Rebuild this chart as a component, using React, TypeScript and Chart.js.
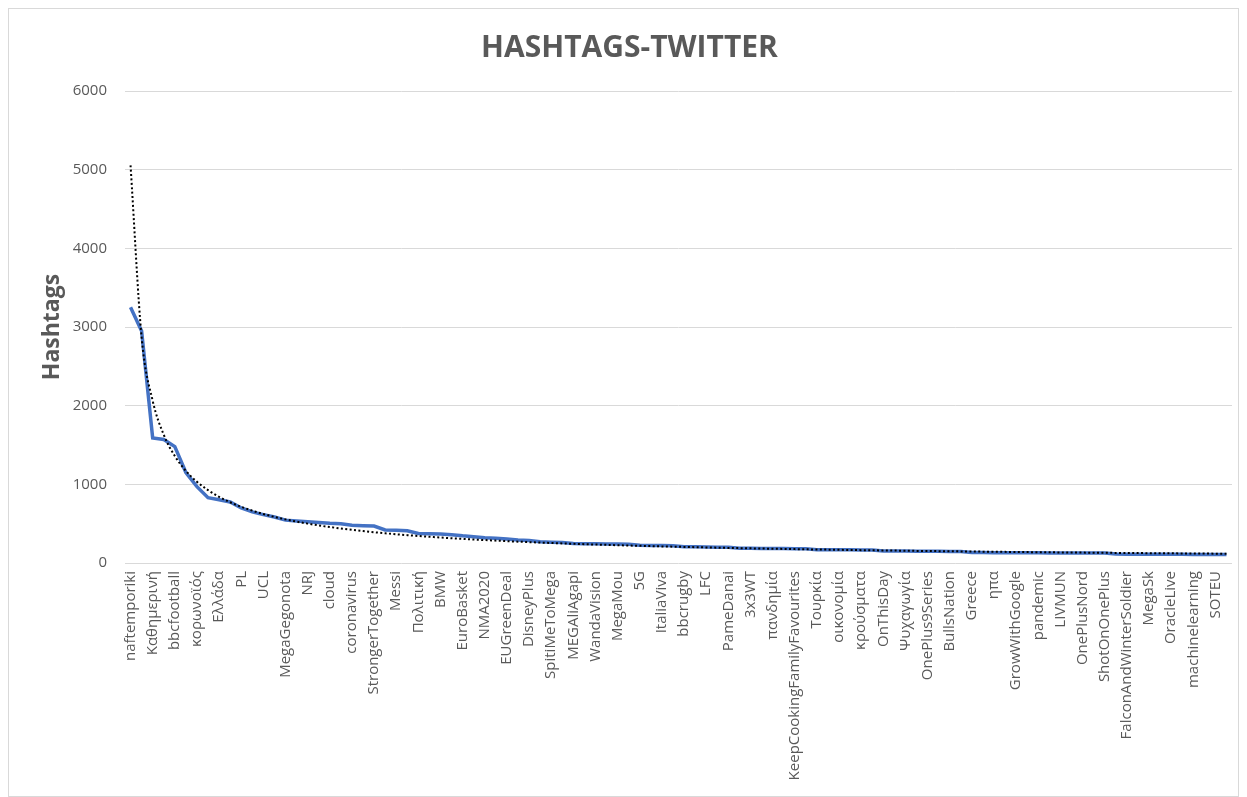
import { useEffect, useRef } from "react";
import { Chart, registerables } from "chart.js";

Chart.register(...registerables);

// Labels that are visible on the axis (every second category is shown)
const shownLabels: string[] = [
  "naftemporiki", "Καθημερινή", "bbcfootball", "κορωνοϊός", "Ελλάδα",
  "PL", "UCL", "MegaGegonota", "NRJ", "cloud",
  "coronavirus", "StrongerTogether", "Messi", "Πολιτική", "BMW",
  "EuroBasket", "NMA2020", "EUGreenDeal", "DisneyPlus", "SpitiMeToMega",
  "MEGAliAgapi", "WandaVision", "MegaMou", "5G", "ItaliaViva",
  "bbcrugby", "LFC", "PameDanai", "3x3WT", "πανδημία",
  "KeepCookingFamilyFavourites", "Τουρκία", "οικονομία", "κρούσματα", "OnThisDay",
  "Ψυχαγωγία", "OnePlus9Series", "BullsNation", "Greece", "ηπα",
  "GrowWithGoogle", "pandemic", "LIVMUN", "OnePlusNord", "ShotOnOnePlus",
  "FalconAndWinterSoldier", "MegaSk", "OracleLive", "machinelearning", "SOTEU",
];

// Hashtag counts, one per category (100 categories)
const hashtagCounts: number[] = [
  3250, 2950, 1590, 1570, 1480, 1150, 970, 830, 805, 775,
  700, 650, 615, 585, 545, 535, 525, 515, 505, 500,
  480, 475, 470, 420, 415, 410, 375, 372, 368, 360,
  345, 335, 320, 315, 305, 292, 287, 270, 265, 260,
  248, 246, 244, 242, 240, 238, 225, 223, 222, 220,
  207, 205, 203, 201, 199, 187, 186, 185, 184, 183,
  182, 180, 170, 169, 168, 167, 166, 165, 153, 152,
  151, 150, 149, 148, 147, 146, 133, 132, 131, 130,
  130, 129, 129, 128, 128, 127, 127, 126, 126, 113,
  112, 112, 111, 111, 110, 110, 109, 109, 108, 108,
];

const yTickValues: number[] = [0, 1000, 2000, 3000, 4000, 5000, 6000];

const chartTitle = "HASHTAGS-TWITTER";
const yAxisTitle = "Hashtags";

// category list: shown label on even positions, hidden label on odd positions
const categories: string[] = hashtagCounts.map((_, i) =>
  i % 2 === 0 ? shownLabels[i / 2] ?? "" : ""
);

// Power trendline (least squares on log-log, like a spreadsheet power trendline)
function powerTrend(values: number[]): number[] {
  const n = values.length;
  let sx = 0, sy = 0, sxx = 0, sxy = 0;
  values.forEach((v, i) => {
    const lx = Math.log(i + 1);
    const ly = Math.log(v);
    sx += lx; sy += ly; sxx += lx * lx; sxy += lx * ly;
  });
  const b = (n * sxy - sx * sy) / (n * sxx - sx * sx);
  const a = Math.exp((sy - b * sx) / n);
  return values.map((_, i) => a * Math.pow(i + 1, b));
}

const GREY = "#595959";
const FONT = "'Open Sans', 'DejaVu Sans', sans-serif";

export default function App() {
  const ref = useRef<HTMLCanvasElement | null>(null);

  useEffect(() => {
    document.documentElement.style.overflow = "hidden";
    const canvas = ref.current;
    if (!canvas) return;
    const chart = new Chart(canvas, {
      type: "line",
      data: {
        labels: categories,
        datasets: [
          {
            label: "Trend",
            data: powerTrend(hashtagCounts),
            borderColor: "#000000",
            borderWidth: 2,
            borderDash: [2, 2.4],
            pointRadius: 0,
            cubicInterpolationMode: "monotone",
            fill: false,
            order: 0,
          },
          {
            label: "Hashtags",
            data: hashtagCounts,
            borderColor: "#4472C4",
            borderWidth: 3.5,
            pointRadius: 0,
            tension: 0,
            fill: false,
            order: 1,
          },
        ],
      },
      options: {
        responsive: false,
        animation: false,
        layout: { padding: { left: 12, right: 0, top: 0, bottom: 0 } },
        plugins: {
          legend: { display: false },
          tooltip: { enabled: false },
          title: {
            display: true,
            text: chartTitle,
            color: GREY,
            font: { family: FONT, size: 30, weight: "bold", lineHeight: 1.2 },
            padding: { top: 21, bottom: 25 },
          },
        },
        scales: {
          x: {
            type: "category",
            offset: true,
            grid: { display: false, drawTicks: false },
            border: { display: false },
            ticks: {
              autoSkip: false,
              maxRotation: 90,
              minRotation: 90,
              padding: 8,
              color: GREY,
              font: { family: FONT, size: 15 },
            },
            afterFit: (scale: any) => {
              scale.height = 233;
              scale.paddingLeft = 0;
              scale.paddingRight = 6;
            },
          },
          y: {
            min: 0,
            max: 6000,
            afterBuildTicks: (scale: any) => {
              scale.ticks = yTickValues.map((v) => ({ value: v }));
            },
            grid: { color: "#d9d9d9", lineWidth: 1, drawTicks: false },
            border: { display: false },
            ticks: {
              padding: 18,
              color: GREY,
              font: { family: FONT, size: 15 },
              callback: (v: any) => String(v),
            },
            title: {
              display: true,
              text: yAxisTitle,
              color: GREY,
              font: { family: FONT, size: 23, weight: "bold", lineHeight: 1.2 },
              padding: { top: 18, bottom: 0 },
            },
            afterFit: (scale: any) => {
              scale.width = 104;
            },
          },
        },
      },
    });
    return () => chart.destroy();
  }, []);

  return (
    <div
      style={{
        width: 1231,
        height: 789,
        boxSizing: "border-box",
        border: "1px solid #d9d9d9",
        background: "#ffffff",
        overflow: "hidden",
      }}
    >
      <canvas ref={ref} width={1229} height={787} style={{ display: "block" }} />
    </div>
  );
}
